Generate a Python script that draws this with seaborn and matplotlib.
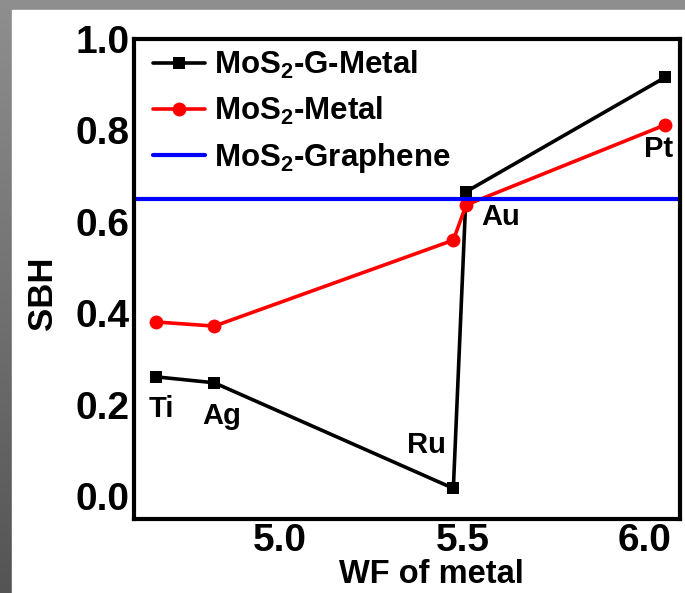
import numpy as np
import matplotlib
matplotlib.use("Agg")
import matplotlib.pyplot as plt
from matplotlib.patches import Rectangle
import seaborn as sns

# Work function of each metal (eV) and Schottky barrier heights (eV)
metals = ["Ti", "Ag", "Ru", "Au", "Pt"]
wf = [4.66, 4.82, 5.475, 5.51, 6.055]
sbh_g_metal = [0.261, 0.248, 0.017, 0.666, 0.916]
sbh_metal = [0.381, 0.372, 0.560, 0.637, 0.812]
sbh_graphene = 0.651

x_ticks = [5.0, 5.5, 6.0]
y_ticks = [0.0, 0.2, 0.4, 0.6, 0.8, 1.0]

sns.set_style("white")
plt.rcParams["font.family"] = ["Liberation Sans", "DejaVu Sans"]
plt.rcParams["font.weight"] = "bold"
plt.rcParams["mathtext.fontset"] = "custom"
plt.rcParams["mathtext.rm"] = "Liberation Sans:bold"
plt.rcParams["mathtext.bf"] = "Liberation Sans:bold"
plt.rcParams["mathtext.it"] = "Liberation Sans:bold"
for key in ["text.color", "axes.labelcolor", "xtick.color", "ytick.color"]:
    plt.rcParams[key] = "black"

W, H = 685, 593
fig = plt.figure(figsize=(W / 100, H / 100), dpi=100)

# grey frame around the white panel
bg = fig.add_axes([0, 0, 1, 1], zorder=-10)
grad = np.linspace(0.56, 0.33, 256)[:, None] * np.ones((1, 2))
bg.imshow(np.dstack([grad] * 3), aspect="auto", extent=[0, 1, 0, 1])
bg.add_patch(Rectangle((12 / W, 0), 1, (H - 10) / H, color="white"))
bg.set_xlim(0, 1)
bg.set_ylim(0, 1)
bg.axis("off")

left, right = 134 / W, 680 / W
bottom, top = (H - 519) / H, (H - 39) / H
ax = fig.add_axes([left, bottom, right - left, top - bottom])
ax.set_facecolor("white")

sns.lineplot(x=wf, y=sbh_g_metal, ax=ax, color="black", marker="s",
             markersize=9, markeredgewidth=0, linewidth=2.6,
             label=r"MoS$_\mathbf{2}$-G-Metal")
sns.lineplot(x=wf, y=sbh_metal, ax=ax, color="#ff0000", marker="o",
             markersize=10, markeredgewidth=0, linewidth=2.6,
             label=r"MoS$_\mathbf{2}$-Metal")
ax.axhline(sbh_graphene, color="#0000ff", linewidth=3,
           label=r"MoS$_\mathbf{2}$-Graphene")

# metal names next to the points
offsets = {"Ti": (3.6, -29), "Ag": (5.5, -29.7), "Ru": (-19.7, 25.4),
           "Au": (24.7, -24), "Pt": (-5, -57.4)}
for name, xv, yv in zip(metals, wf, sbh_g_metal):
    ax.annotate(name, (xv, yv), xytext=offsets[name], textcoords="offset points",
                ha="center", va="baseline", fontsize=21, fontweight="bold",
                color="black")

ax.set_xlim(4.6, 6.096)
ax.set_ylim(-0.05, 1.0)
ax.set_xticks(x_ticks)
ax.set_yticks(y_ticks)
ax.set_xticklabels([f"{t:.1f}" for t in x_ticks])
ax.set_yticklabels([f"{t:.1f}" for t in y_ticks])
ax.tick_params(direction="in", length=6.5, width=2.5, labelsize=28, pad=3,
               colors="black")
for lab in ax.get_xticklabels() + ax.get_yticklabels():
    lab.set_fontweight("bold")
for sp in ax.spines.values():
    sp.set_linewidth(3)
    sp.set_color("black")

ax.set_xlabel("WF of metal", fontsize=23.5, fontweight="bold", color="black")
ax.set_ylabel("SBH", fontsize=25, fontweight="bold", color="black")
ax.xaxis.set_label_coords(0.544, -0.083)
ax.yaxis.set_label_coords(-0.138, 0.47)

leg = ax.legend(loc="upper left", frameon=False, fontsize=22.5, numpoints=1,
                handlelength=1.65, handletextpad=0.3, labelspacing=0.45,
                borderaxespad=0.0, bbox_to_anchor=(0.012, 1.005))
for t in leg.get_texts():
    t.set_color("black")

fig.savefig("out.png", dpi=100)
